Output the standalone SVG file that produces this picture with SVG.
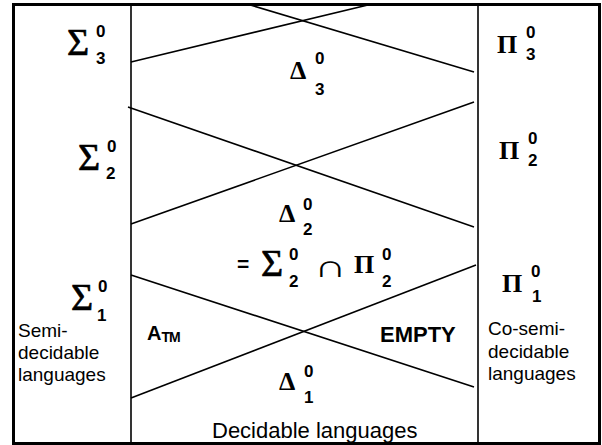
<svg xmlns="http://www.w3.org/2000/svg" width="602" height="445" viewBox="0 0 602 445">
<style>
.g{font-family:"Liberation Serif",serif;fill:#000}
.big{font-size:38px;stroke:#000;stroke-width:0.7}
.mid{font-size:26px;font-weight:bold}
.s{font-family:"Liberation Sans",Arial,sans-serif;font-weight:bold;font-size:17px;fill:#000}
.t{font-family:"Liberation Sans",Arial,sans-serif;font-size:19px;fill:#000}
.t22{font-family:"Liberation Sans",Arial,sans-serif;font-size:22px;fill:#000}
.b{font-family:"Liberation Sans",Arial,sans-serif;font-weight:bold;fill:#000}
.ln{stroke:#000;stroke-width:1.6;fill:none}
</style>
<rect x="0" y="0" width="602" height="445" fill="#fff"/>
<g id="frame">
<rect x="13.5" y="4.5" width="586" height="439" fill="none" stroke="#000" stroke-width="3"/>
<line class="ln" x1="131" y1="4" x2="131" y2="444"/>
<line class="ln" x1="478" y1="4" x2="478" y2="444"/>
</g>
<g id="connectors">
<line class="ln" x1="131" y1="62" x2="372" y2="4"/>
<line class="ln" x1="247" y1="4" x2="474" y2="72"/>
<line class="ln" x1="128" y1="107" x2="474" y2="227"/>
<line class="ln" x1="131" y1="224" x2="474" y2="102"/>
<line class="ln" x1="131" y1="275" x2="474" y2="387"/>
<line class="ln" x1="131" y1="398" x2="476" y2="265"/>
</g>
<g id="sigma3"><text class="g big" x="67" y="55">Σ</text><text class="s" x="96" y="37">0</text><text class="s" x="96" y="64">3</text></g>
<g id="sigma2"><text class="g big" x="78" y="170">Σ</text><text class="s" x="107" y="152">0</text><text class="s" x="106" y="179">2</text></g>
<g id="sigma1"><text class="g big" x="71" y="310">Σ</text><text class="s" x="98" y="292">0</text><text class="s" x="97" y="321">1</text></g>
<g id="pi3"><text class="g mid" x="497" y="53">Π</text><text class="s" x="526" y="38">0</text><text class="s" x="526" y="60">3</text></g>
<g id="pi2"><text class="g mid" x="499" y="159">Π</text><text class="s" x="528" y="144">0</text><text class="s" x="528" y="166">2</text></g>
<g id="pi1"><text class="g mid" x="502" y="292">Π</text><text class="s" x="531" y="277">0</text><text class="s" x="532" y="302">1</text></g>
<g id="delta3"><text class="g mid" x="290" y="79">Δ</text><text class="s" x="315" y="64">0</text><text class="s" x="315" y="95">3</text></g>
<g id="delta2"><text class="g mid" x="279" y="222">Δ</text><text class="s" x="303" y="210">0</text><text class="s" x="303" y="235">2</text></g>
<g id="delta1"><text class="g mid" x="279" y="390">Δ</text><text class="s" x="304" y="377">0</text><text class="s" x="304" y="403">1</text></g>
<g id="equation">
<text class="b" x="237" y="271" font-size="21">=</text>
<text class="g big" x="261" y="276">Σ</text><text class="s" x="289" y="260">0</text><text class="s" x="289" y="287">2</text>
<text transform="translate(314,277) scale(1.6,1.12)" x="0" y="0" font-size="28" font-weight="200" font-family="DejaVu Sans,sans-serif">∩</text>
<text class="g mid" x="354" y="273">Π</text><text class="s" x="382" y="260">0</text><text class="s" x="382" y="287">2</text>
</g>
<g id="semidecidable"><text class="t" x="18"><tspan x="18" y="337">Semi-</tspan><tspan x="18" y="359">decidable</tspan><tspan x="18" y="381">languages</tspan></text></g>
<g id="cosemidecidable"><text class="t" x="488"><tspan x="488" y="335">Co-semi-</tspan><tspan x="488" y="358">decidable</tspan><tspan x="488" y="380">languages</tspan></text></g>
<g id="atm"><text class="b" x="147" y="340" font-size="20">A<tspan font-size="14" dy="2" letter-spacing="-1">TM</tspan></text></g>
<g id="empty"><text class="b" x="380" y="342" font-size="22">EMPTY</text></g>
<g id="decidable"><text class="t22" x="212" y="438">Decidable languages</text></g>
</svg>
